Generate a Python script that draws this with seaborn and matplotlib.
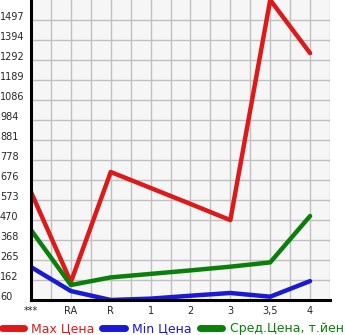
import numpy as np
import pandas as pd
import matplotlib
matplotlib.use("Agg")
import matplotlib.pyplot as plt
import seaborn as sns

categories = ["***", "RA", "R", "1", "2", "3", "3,5", "4"]
max_price = [614, 152, 717, 635, 553, 470, 1600, 1327]
min_price = [229, 106, 60, 67, 82, 96, 77, 157]
avg_price = [419, 137, 176, 194, 212, 231, 253, 491]
series_names = ["Max Цена", "Min Цена", "Сред.Цена, т.йен"]
series_colors = ["#dd1a1a", "#1a1ad6", "#0a800a"]
y_tick_labels = ["60", "162", "265", "368", "470", "573", "676", "778",
                 "881", "984", "1086", "1189", "1292", "1394", "1497"]

sns.set_style("white")
plt.rcParams["font.family"] = ["DejaVu Sans"]

rows = []
for name, vals in zip(series_names, [max_price, min_price, avg_price]):
    for c, v in zip(categories, vals):
        rows.append({"cat": c, "value": v, "series": name})
df = pd.DataFrame(rows)

fig = plt.figure(figsize=(3.45, 3.35), dpi=100)
ax = fig.add_axes([31 / 345, 35 / 335, 299 / 345, 300 / 335])
ax.set_facecolor("#f6f6f6")

sns.lineplot(data=df, x="cat", y="value", hue="series", hue_order=series_names,
             palette=series_colors, linewidth=3.2, ax=ax, legend=False, sort=False)

y0 = 60.0
step = (1497 - 60) / 14
yticks = [y0 + i * step for i in range(15)]
ax.set_ylim(y0, y0 + 15 * step)
ax.set_yticks(yticks)
ax.set_yticklabels(y_tick_labels)
ax.set_xlim(0, 7.5)
ax.set_xticks(range(len(categories)))
ax.set_xticklabels(categories)
ax.set_xticks(np.arange(0.5, 7.6, 1.0), minor=True)

ax.grid(True, which="both", color="#c0c0c0", linewidth=1.0)
ax.set_axisbelow(True)
for s in ["top", "right"]:
    ax.spines[s].set_visible(False)
for s in ["left", "bottom"]:
    ax.spines[s].set_color("black")
    ax.spines[s].set_linewidth(2.2)

ax.tick_params(axis="both", which="both", length=3, width=1, color="black",
               labelsize=7, direction="out")
ax.tick_params(axis="x", pad=1.5)
ax.tick_params(axis="y", pad=19.3)
for lbl in ax.get_yticklabels():
    lbl.set_horizontalalignment("left")
    lbl.set_verticalalignment("baseline")
ax.set_xlabel("")
ax.set_ylabel("")

handles = [plt.Line2D([0], [0], color=c, linewidth=5, solid_capstyle="round")
           for c in series_colors]
leg = fig.legend(handles, series_names, loc="lower center", ncol=3,
                 bbox_to_anchor=(0.5, 0.0), frameon=False, fontsize=9,
                 handlelength=1.8, handletextpad=0.6, columnspacing=0.6,
                 borderpad=0.0, borderaxespad=0.0)
for t, c in zip(leg.get_texts(), series_colors):
    t.set_color(c)

fig.savefig("out.png", dpi=100)
